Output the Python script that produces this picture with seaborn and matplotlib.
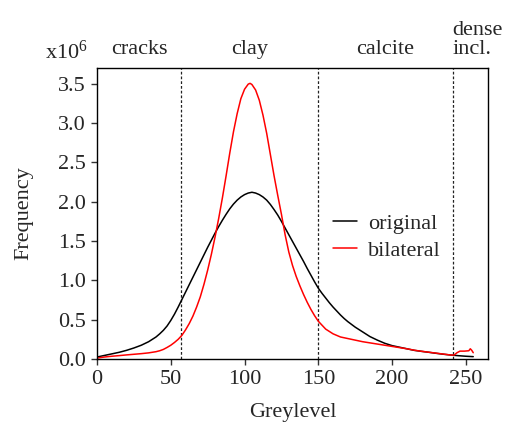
import numpy as np
import pandas as pd
import matplotlib
matplotlib.use("Agg")
import matplotlib.pyplot as plt
import seaborn as sns

# ---- data ----
grey_orig = [0, 5, 10, 15, 20, 25, 30, 35, 40, 42.5, 45, 47.5, 50, 52.5, 55, 57.5, 60, 62.5,
             65, 67.5, 70, 72.5, 75, 77.5, 80, 82.5, 85, 87.5, 90, 92.5, 95, 97.5, 100, 102.5,
             105, 107.5, 110, 112.5, 115, 117.5, 120, 122.5, 125, 127.5, 130, 132.5, 135,
             137.5, 140, 142.5, 145, 147.5, 150, 152.5, 155, 157.5, 160, 162.5, 165, 167.5,
             170, 175, 180, 185, 190, 195, 200, 205, 210, 215, 220, 225, 230, 235, 240, 245,
             250, 255]
freq_orig = [0.025, 0.045, 0.065, 0.085, 0.11, 0.14, 0.175, 0.22, 0.28, 0.32, 0.365, 0.42,
             0.49, 0.57, 0.66, 0.755, 0.85, 0.945, 1.04, 1.135, 1.23, 1.325, 1.42, 1.51, 1.60,
             1.685, 1.765, 1.84, 1.91, 1.97, 2.02, 2.06, 2.09, 2.11, 2.12, 2.11, 2.09, 2.06,
             2.02, 1.965, 1.90, 1.83, 1.75, 1.665, 1.58, 1.495, 1.41, 1.325, 1.24, 1.15, 1.065,
             0.98, 0.90, 0.835, 0.775, 0.715, 0.66, 0.61, 0.56, 0.515, 0.475, 0.405, 0.345,
             0.285, 0.24, 0.20, 0.17, 0.15, 0.13, 0.11, 0.097, 0.085, 0.072, 0.06, 0.05, 0.042,
             0.035, 0.03]

grey_bilat = [0, 5, 10, 15, 20, 25, 30, 35, 40, 42.5, 45, 47.5, 50, 52.5, 55, 57.5, 60, 62.5,
              65, 67.5, 70, 72.5, 75, 77.5, 80, 82.5, 85, 87.5, 90, 92.5, 95, 97.5, 100, 102.5,
              103.75, 105, 107.5, 110, 112.5, 115, 117.5, 120, 122.5, 125, 127.5, 130, 132.5,
              135, 137.5, 140, 142.5, 145, 147.5, 150, 155, 160, 165, 170, 175, 180, 185, 190,
              195, 200, 205, 210, 215, 220, 225, 230, 235, 240, 242, 244, 246, 249, 252, 253,
              254, 255]
freq_bilat = [0.012, 0.025, 0.035, 0.043, 0.052, 0.06, 0.068, 0.078, 0.093, 0.105, 0.122,
              0.147, 0.175, 0.21, 0.25, 0.30, 0.37, 0.45, 0.545, 0.66, 0.79, 0.95, 1.13, 1.33,
              1.55, 1.79, 2.05, 2.33, 2.62, 2.89, 3.12, 3.31, 3.43, 3.495, 3.505, 3.49, 3.42,
              3.29, 3.10, 2.87, 2.60, 2.33, 2.08, 1.84, 1.58, 1.36, 1.19, 1.05, 0.93, 0.82,
              0.72, 0.63, 0.55, 0.48, 0.38, 0.32, 0.28, 0.26, 0.24, 0.22, 0.205, 0.19, 0.175,
              0.16, 0.145, 0.13, 0.112, 0.098, 0.086, 0.074, 0.062, 0.05, 0.05, 0.08, 0.10,
              0.10, 0.105, 0.13, 0.11, 0.08]

series_names = ["original", "bilateral"]
series_colors = ["#000000", "#ff0000"]

boundaries = [57, 150, 241]
region_labels = ["cracks", "clay", "calcite", "dense\nincl."]
region_centers = [28.5, 103.5, 195.5, 241]

xticks = [0, 50, 100, 150, 200, 250]
yticks = [0.0, 0.5, 1.0, 1.5, 2.0, 2.5, 3.0, 3.5]

# ---- build table ----
df = pd.concat([
    pd.DataFrame({"Greylevel": grey_orig, "Frequency": freq_orig, "series": series_names[0]}),
    pd.DataFrame({"Greylevel": grey_bilat, "Frequency": freq_bilat, "series": series_names[1]}),
], ignore_index=True)

sns.set_theme(style="ticks")
plt.rcParams["font.family"] = ["Liberation Serif", "DejaVu Serif"]
plt.rcParams["mathtext.fontset"] = "custom"
plt.rcParams["mathtext.rm"] = "Liberation Serif"
plt.rcParams["mathtext.it"] = "Liberation Serif"

FS = 16

fig = plt.figure(figsize=(5.05, 4.23), dpi=100)
ax = fig.add_axes([97 / 505, 64 / 423, 391 / 505, 291 / 423])

sns.lineplot(data=df, x="Greylevel", y="Frequency", hue="series",
             hue_order=series_names, palette=dict(zip(series_names, series_colors)),
             estimator=None, linewidth=1.1, ax=ax)

for b in boundaries:
    ax.axvline(b, color="#222222", linestyle=(0, (2.2, 1.6)), linewidth=0.9, zorder=0)

ax.set_xlim(0, 265)
ax.set_ylim(0, 3.7)
ax.set_xticks(xticks)
ax.set_xticklabels([str(t) for t in xticks])
ax.set_yticks(yticks)
ax.set_yticklabels([f"{t:.1f}" for t in yticks])
ax.tick_params(axis="both", labelsize=FS, length=4, width=1, pad=4, color="#333333")
for s in ax.spines.values():
    s.set_linewidth(1.0)
    s.set_color("#000000")

ax.set_xlabel("Greylevel", fontsize=FS, labelpad=10)
ax.set_ylabel("Frequency", fontsize=FS, labelpad=18)

# region labels above axes
trans = ax.get_xaxis_transform()
for lab, cx in zip(region_labels, region_centers):
    if "\n" in lab:
        ax.text(cx, 1.047, lab, transform=trans, ha="left", va="baseline",
                fontsize=FS, linespacing=1.05)
    else:
        ax.text(cx, 1.047, lab, transform=trans, ha="center", va="baseline", fontsize=FS)

ax.text(-0.134, 1.03, r"x10$^{6}$", transform=ax.transAxes, ha="left", va="baseline",
        fontsize=FS)

leg = ax.legend(loc="upper left", bbox_to_anchor=(0.603, 0.50), frameon=False,
                fontsize=FS, handlelength=1.1, handletextpad=0.5, labelspacing=0.3,
                borderpad=0, borderaxespad=0)

fig.savefig("out.png", dpi=100)
